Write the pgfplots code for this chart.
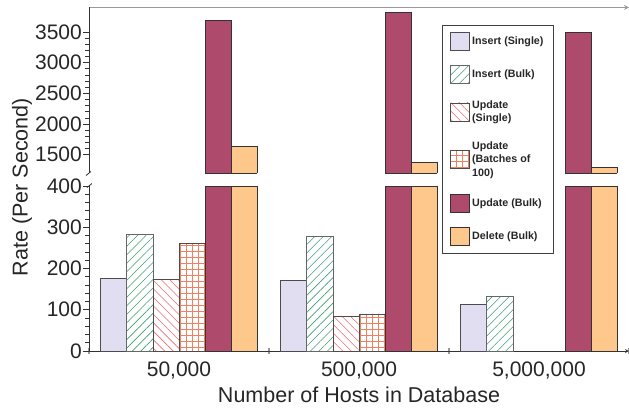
\documentclass[border=0pt]{standalone}
\usepackage{fontspec}
\setmainfont{Liberation Sans}
\usepackage{pgfplots}
\pgfplotsset{compat=1.18}
\usetikzlibrary{patterns.meta}

\definecolor{insS}{HTML}{E0DEF0}
\definecolor{hatchG}{HTML}{3E9E78}
\definecolor{hatchR}{HTML}{F06A6A}
\definecolor{gridO}{HTML}{F0805E}
\definecolor{updB}{HTML}{AE4A6C}
\definecolor{delB}{HTML}{FEC78C}
\definecolor{axisgray}{HTML}{333333}

\pgfplotsset{
  brokenbase/.style={
    scale only axis, width=540pt,
    xmin=0.5, xmax=3.5,
    axis y line=left,
    axis line style={-, axisgray, line width=0.8pt},
    tick align=outside, major tick length=6pt, minor tick length=3.5pt,
    minor y tick num=4,
    ytick style={axisgray, line width=0.6pt},
    /pgf/number format/assume math mode=true,
    /pgf/number format/1000 sep={},
    tick label style={font=\fontsize{21}{25}\selectfont, text=black!85},
    yticklabel style={inner xsep=1pt},
  },
  leg/.style={legend image code/.code={\draw[##1] (0pt,-9pt) rectangle (19pt,9pt);}},
  s1/.style={ybar, bar width=0.145, bar shift=-0.3625, fill=insS, draw=black!70, line width=0.7pt, leg},
  s2/.style={ybar, bar width=0.145, bar shift=-0.2175, draw=black!60, line width=0.7pt,
    pattern={Lines[angle=45, distance=6pt, line width=0.6pt]}, pattern color=hatchG, leg},
  s3/.style={ybar, bar width=0.145, bar shift=-0.0725, draw=black!70, line width=0.7pt,
    pattern={Lines[angle=-45, distance=6pt, line width=0.6pt]}, pattern color=hatchR, leg},
  s4/.style={ybar, bar width=0.145, bar shift=0.0725, draw=black!70, line width=0.7pt,
    pattern={Hatch[angle=0, distance=6pt, line width=0.6pt]}, pattern color=gridO, leg},
  s5/.style={ybar, bar width=0.145, bar shift=0.2175, fill=updB, draw=black!80, line width=0.7pt, leg},
  s6/.style={ybar, bar width=0.145, bar shift=0.3625, fill=delB, draw=black!80, line width=0.7pt, leg},
}

\begin{document}
\begin{tikzpicture}
%% --- upper part of the broken axis ---
\begin{axis}[brokenbase, name=upper, at={(0pt,178pt)}, anchor=south west, height=165.5pt,
  ymin=1200, ymax=3900, ytick={1500,2000,2500,3000,3500},
  axis x line=top, xtick=\empty,
  x axis line style={gray!80, line width=1.2pt},
  clip mode=individual]
\addplot[s5] coordinates {(1,3690) (2,3825) (3,3500)};
\addplot[s6] coordinates {(1,1630) (2,1370) (3,1285)};
\draw[black!80, line width=0.7pt] (axis cs:1.145,1200) -- (axis cs:1.435,1200);
\draw[black!80, line width=0.7pt] (axis cs:2.145,1200) -- (axis cs:2.435,1200);
\draw[black!80, line width=0.7pt] (axis cs:3.145,1200) -- (axis cs:3.435,1200);
\end{axis}

%% --- lower part ---
\begin{axis}[brokenbase, name=lower, at={(0pt,0pt)}, anchor=south west, height=165pt,
  ymin=0, ymax=400, ytick={0,100,200,300,400}, clip=false,
  axis x line=bottom,
  xtick={0.5,1.5,2.5,3.5}, x tick label as interval,
  xticklabels={{50,000},{500,000},{5,000,000}},
  xtick style={gray!80, line width=1.2pt},
  xticklabel style={yshift=-4pt},
  restrict y to domain*=0:400,
  xlabel={Number of Hosts in Database},
  ylabel={Rate (Per Second)},
  every axis x label/.style={at={(axis description cs:0.5,-0.315)}, anchor=base,
    font=\fontsize{21.5}{25}\selectfont, text=black!85},
  every axis y label/.style={at={(axis description cs:-0.124,0.994)}, anchor=center, rotate=90,
    font=\fontsize{21.5}{25}\selectfont, text=black!85},
  legend cell align=left,
  legend style={at={(axis description cs:0.654,1.976)}, anchor=north west,
    draw=black!75, line width=0.6pt,
    font=\bfseries\fontsize{10.7}{13.3}\selectfont, text=black!85,
    row sep=14.5pt, inner xsep=8pt, inner ysep=7pt,
    cells={align=left, anchor=west},
    /tikz/every even column/.append style={column sep=7pt}},
]
\addplot[s1] coordinates {(1,175) (2,171) (3,113)};
\addlegendentry{Insert (Single)}
\addplot[s2] coordinates {(1,282) (2,277) (3,133)};
\addlegendentry{Insert (Bulk)}
\addplot[s3] coordinates {(1,173) (2,85)};
\addlegendentry{Update\\(Single)}
\addplot[s4] coordinates {(1,260) (2,90)};
\addlegendentry{Update\\(Batches of\\100)}
\addplot[s5] coordinates {(1,3690) (2,3825) (3,3500)};
\addlegendentry{Update (Bulk)}
\addplot[s6] coordinates {(1,1630) (2,1370) (3,1285)};
\addlegendentry{Delete (Bulk)}
\end{axis}

%% --- break marks on the y axis ---
\draw[axisgray, line width=0.8pt] (upper.south west) ++(-3pt,-2.5pt) -- ++(5pt,4pt);
\draw[axisgray, line width=0.8pt] (lower.north west) ++(-2pt,-1.5pt) -- ++(5pt,4pt);

\pgfresetboundingbox
\path[use as bounding box] (-89pt,-56pt) rectangle (540pt,351pt);
\end{tikzpicture}
\end{document}
